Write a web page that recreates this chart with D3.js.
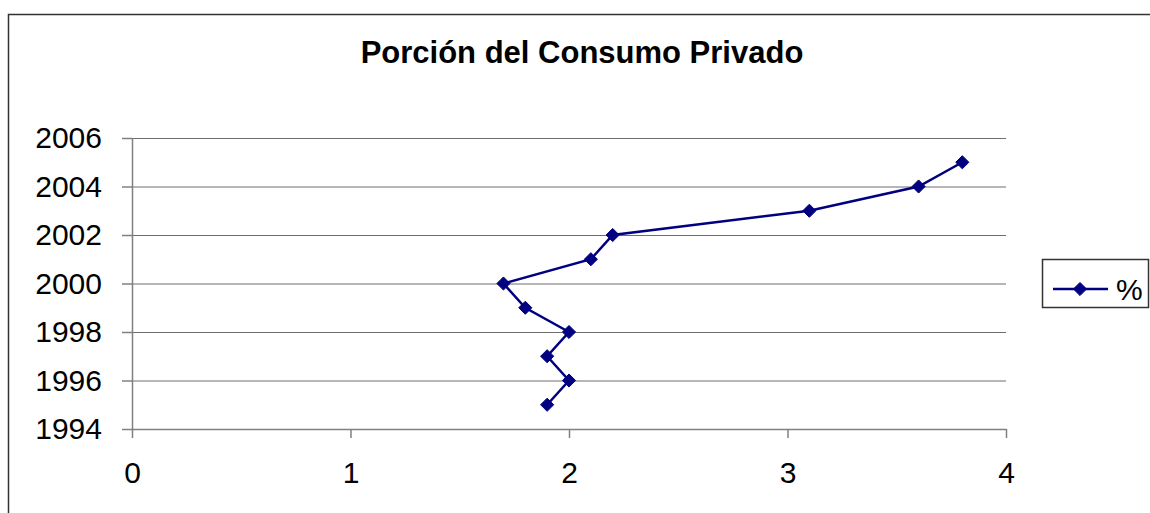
<!DOCTYPE html>
<html>
<head>
<meta charset="utf-8">
<script src="https://cdn.jsdelivr.net/npm/d3@7"></script>
<style>
	body { margin: 0; background: #fff; }
	text { font-family: Arial, "Liberation Sans", sans-serif; fill: #000; }
	.axis path, .axis line { stroke: #808080; stroke-width: 1.5; }
	.grid line { stroke: #6e6e6e; stroke-width: 1; }
	.grid path { display: none; }
</style>
</head>
<body>
<div class="chartContainer"></div>
<script>
var years = [1995, 1996, 1997, 1998, 1999, 2000, 2001, 2002, 2003, 2004, 2005];
var pct = [1.9, 2.0, 1.9, 2.0, 1.8, 1.7, 2.1, 2.2, 3.1, 3.6, 3.8];
var xTicks = [0, 1, 2, 3, 4];
var yTicks = [1994, 1996, 1998, 2000, 2002, 2004, 2006];
var chartTitle = "Porción del Consumo Privado";
var seriesName = "%";

var width = 1150,
		height = 513;
var plot = { left: 132, top: 138, right: 1006, bottom: 429 };

var svg = d3.select(".chartContainer").append("svg")
	.attr("width", width).attr("height", height);

// outer chart frame (runs off the right and bottom edges)
svg.append("rect").attr("x", 8.5).attr("y", 14.5)
	.attr("width", 1160).attr("height", 520)
	.attr("fill", "#fff").attr("stroke", "#333").attr("stroke-width", 1.5);

var x = d3.scaleLinear().domain([0, 4]).range([plot.left, plot.right]);
var y = d3.scaleLinear().domain([1994, 2006]).range([plot.bottom, plot.top]);

//  gridlines
svg.append("g").attr("class", "grid")
	.attr("transform", "translate(" + plot.left + ",0)")
	.call(d3.axisLeft(y).tickValues(yTicks).tickSize(-(plot.right - plot.left)).tickFormat(""));

//  axes
var yAxis = svg.append("g").attr("class", "axis")
	.attr("transform", "translate(" + plot.left + ",0)")
	.call(d3.axisLeft(y).tickValues(yTicks).tickSize(10).tickSizeOuter(0).tickPadding(20).tickFormat(d3.format("d")));
yAxis.selectAll("text").style("font-size", "30px");

var xAxis = svg.append("g").attr("class", "axis")
	.attr("transform", "translate(0," + plot.bottom + ")")
	.call(d3.axisBottom(x).tickValues(xTicks).tickSize(9).tickSizeOuter(0).tickPadding(24).tickFormat(d3.format("d")));
xAxis.selectAll("text").style("font-size", "30px");

svg.append("text").attr("x", 582).attr("y", 63)
	.attr("text-anchor", "middle")
	.style("font-size", "31px").style("font-weight", "bold")
	.text(chartTitle);

//  series line and diamond markers
var line = d3.line()
	.x(function(d, i) { return x(pct[i]); })
	.y(function(d) { return y(d); });

svg.append("path").datum(years)
	.attr("d", line).attr("fill", "none")
	.attr("stroke", "#000080").attr("stroke-width", 2.5);

var diamond = d3.symbol().type(d3.symbolDiamond2).size(110);

svg.append("g").selectAll("path")
	.data(years).enter().append("path")
	.attr("d", diamond)
	.attr("fill", "#000080")
	.attr("stroke", "#000080").attr("stroke-width", 1)
	.attr("transform", function(d, i) {
		return "translate(" + x(pct[i]) + "," + y(d) + ")"; });

//  legend
var lg = svg.append("g");
lg.append("rect").attr("x", 1042.5).attr("y", 259.5)
	.attr("width", 106).attr("height", 48)
	.attr("fill", "#fff").attr("stroke", "#333").attr("stroke-width", 1.5);
lg.append("line").attr("x1", 1053).attr("x2", 1108).attr("y1", 289).attr("y2", 289)
	.attr("stroke", "#000080").attr("stroke-width", 2.5);
lg.append("path").attr("d", diamond)
	.attr("fill", "#000080").attr("stroke", "#000080").attr("stroke-width", 1)
	.attr("transform", "translate(1080,289)");
lg.append("text").attr("x", 1116).attr("y", 300)
	.style("font-size", "30px").text(seriesName);
</script>
</body>
</html>
